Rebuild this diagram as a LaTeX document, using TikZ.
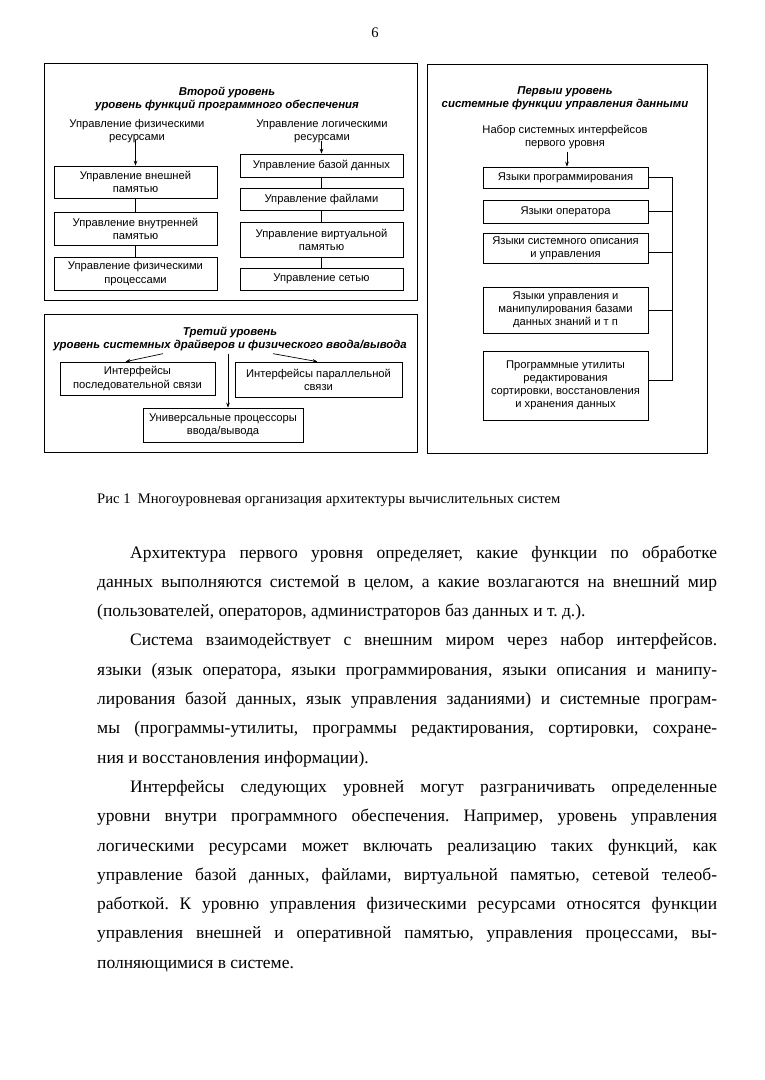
\documentclass[tikz,border=0pt]{standalone}
\usepackage{fontspec}
\setmainfont{Liberation Serif}
\newfontfamily\diafont{Liberation Sans}
\usetikzlibrary{arrows.meta}
\frenchspacing

\begin{document}
\begin{tikzpicture}[
  x=1pt, y=-1pt,
  >={Stealth[length=5pt,width=3.6pt]},
  frame/.style={draw=black, line width=0.9pt},
  levbox/.style={draw=black, line width=0.7pt, align=center, inner sep=1pt, font={\diafont\fontsize{11.2}{13.2}\selectfont}},
  levtxt/.style={align=center, inner sep=0pt, font={\diafont\fontsize{11.2}{13}\selectfont}},
  levttl/.style={align=center, inner sep=0pt, font={\diafont\bfseries\itshape\fontsize{11.4}{13}\selectfont}},
  levline/.style={draw=black, line width=0.7pt},
  levarr/.style={->, draw=black, line width=0.7pt},
  captxt/.style={inner sep=0pt, font={\fontsize{14.6}{16}\selectfont}},
  bodytxt/.style={text width=620pt, align=justify, inner sep=0pt, font={\fontsize{17.5}{29.3}\selectfont}}
]
\useasboundingbox (0,0) rectangle (764,1080);

\node[captxt, anchor=base] (pageno) at (375,37) {6};

% panel frames
\draw[frame] (44,63) rectangle (417,300);
\draw[frame] (44,314) rectangle (417,452);
\draw[frame] (427,64) rectangle (707,453);

% second level
\node[levttl] (t2) at (227,98.5) {Второй уровень\\уровень функций программного обеспечения};
\node[levtxt] (phys) at (137,131) {Управление физическими\\ресурсами};
\node[levbox, minimum width=163pt, minimum height=32pt] (extmem) at (135.5,182) {Управление внешней\\памятью};
\node[levbox, minimum width=163pt, minimum height=33pt] (intmem) at (135.5,228.5) {Управление внутренней\\памятью};
\node[levbox, minimum width=163pt, minimum height=33pt] (proc) at (135.5,273.5) {Управление физическими\\процессами};
\node[levtxt] (logic) at (322,131) {Управление логическими\\ресурсами};
\node[levbox, minimum width=163pt, minimum height=23pt] (dbase) at (321.5,165.5) {Управление базой данных};
\node[levbox, minimum width=163pt, minimum height=22pt] (files) at (321.5,199) {Управление файлами};
\node[levbox, minimum width=163pt, minimum height=35pt] (virt) at (321.5,239.5) {Управление виртуальной\\памятью};
\node[levbox, minimum width=163pt, minimum height=22pt] (net) at (321.5,279) {Управление сетью};
\draw[levarr] (phys.south -| extmem.north) ++(0,-3) -- (extmem.north);
\draw[levline] (extmem) -- (intmem);
\draw[levline] (intmem) -- (proc);
\draw[levarr] (logic.south -| dbase.north) ++(0,-2) -- (dbase.north);
\draw[levline] (dbase) -- (files);
\draw[levline] (files) -- (virt);
\draw[levline] (virt) -- (net);

% third level
\node[levttl] (t3) at (230,338.5) {Третий уровень\\уровень системных драйверов и физического ввода/вывода};
\node[levbox, minimum width=155pt, minimum height=33pt] (serial) at (137.5,378.5) {Интерфейсы\\последовательной связи};
\node[levbox, minimum width=167pt, minimum height=35pt] (parallel) at (318.5,379.5) {Интерфейсы параллельной\\связи};
\node[levbox, minimum width=160pt, minimum height=34pt] (univ) at (223,425) {Универсальные процессоры\\ввода/вывода};
\draw[levarr] ([xshift=-67pt,yshift=-3pt]t3.south) -- ([xshift=-12pt]serial.north);
\draw[levarr] ([xshift=43pt,yshift=-3pt]t3.south) -- ([xshift=-1pt]parallel.north);
\draw[levarr] ([xshift=5pt,yshift=-3pt]univ.north |- t3.south) -- ([xshift=5pt]univ.north);

% first level
\node[levttl] (t1) at (565,98.5) {Первыи уровень\\системные функции управления данными};
\node[levtxt] (iface) at (565,136.5) {Набор системных интерфейсов\\первого уровня};
\node[levbox, minimum width=165pt, minimum height=21pt] (lang1) at (565.5,177.5) {Языки программирования};
\node[levbox, minimum width=165pt, minimum height=23pt] (lang2) at (565.5,211.5) {Языки оператора};
\node[levbox, minimum width=165pt, minimum height=30pt] (lang3) at (565.5,248) {Языки системного описания\\и управления};
\node[levbox, minimum width=165pt, minimum height=46pt] (lang4) at (565.5,310) {Языки управления и\\манипулирования базами\\данных знаний и т п};
\node[levbox, minimum width=165pt, minimum height=69pt] (utils) at (565.5,385.5) {Программные утилиты\\редактирования\\сортировки, восстановления\\и хранения данных};
\coordinate (bus) at (672,0);
\draw[levarr] ([xshift=2pt,yshift=-3pt]iface.south) -- ([xshift=1.5pt]lang1.north);
\draw[levline] (lang1.east) -- (lang1.east -| bus) -- ([yshift=5pt]utils.east -| bus) -- ([yshift=5pt]utils.east);
\draw[levline] (lang2.east) -- (lang2.east -| bus);
\draw[levline] ([yshift=-4pt]lang3.east) -- ([yshift=-4pt]lang3.east -| bus);
\draw[levline] (lang4.east) -- (lang4.east -| bus);

% caption and text
\node[captxt, anchor=base west] (cap) at (97,503) {Рис 1\ \ Многоуровневая организация архитектуры вычислительных систем};
\node[bodytxt, anchor=base west] (body) at (97,558) {%
\hspace*{33pt}Архитектура первого уровня определяет, какие функции по обработке\linebreak
данных выполняются системой в целом, а какие возлагаются на внешний мир\linebreak
(пользователей, операторов, администраторов баз данных и т.~д.).\par
\hspace*{33pt}Система взаимодействует с внешним миром через набор интерфейсов.\linebreak
языки (язык оператора, языки программирования, языки описания и манипу-\linebreak
лирования базой данных, язык управления заданиями) и системные програм-\linebreak
мы (программы-утилиты, программы редактирования, сортировки, сохране-\linebreak
ния и восстановления информации).\par
\hspace*{33pt}Интерфейсы следующих уровней могут разграничивать определенные\linebreak
уровни внутри программного обеспечения. Например, уровень управления\linebreak
логическими ресурсами может включать реализацию таких функций, как\linebreak
управление базой данных, файлами, виртуальной памятью, сетевой телеоб-\linebreak
работкой. К уровню управления физическими ресурсами относятся функции\linebreak
управления внешней и оперативной памятью, управления процессами, вы-\linebreak
полняющимися в системе.};
\end{tikzpicture}
\end{document}
